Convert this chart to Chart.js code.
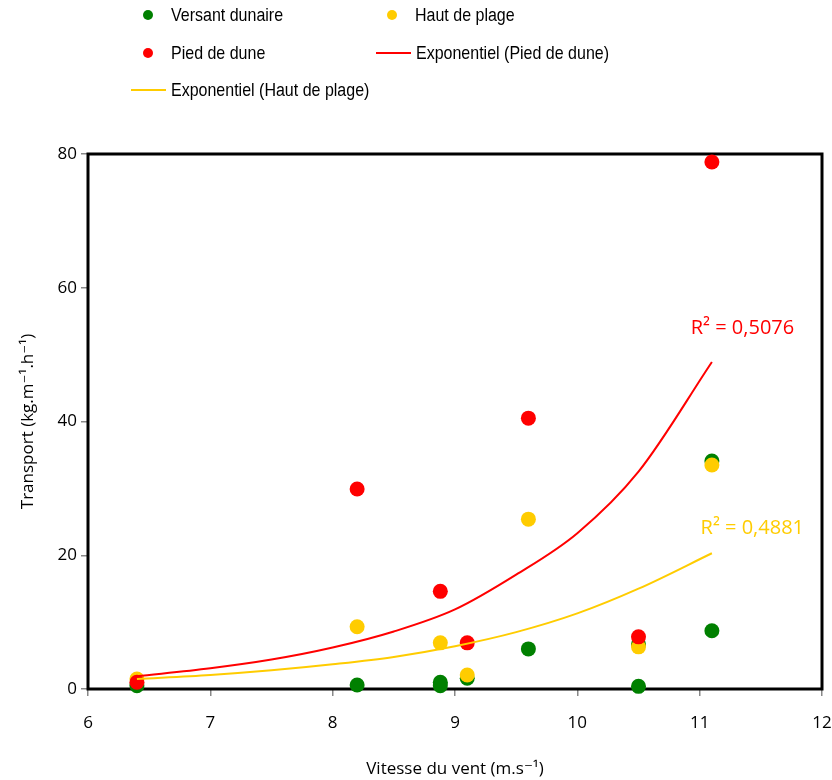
<!DOCTYPE html>
<html>
<head>
<meta charset="utf-8">
<script src="https://cdn.jsdelivr.net/npm/chart.js@4.4.1/dist/chart.umd.min.js"></script>
<style>
  body { margin: 0; background: #fff; }
  .wrap { position: relative; width: 832px; height: 780px; }
  .legend-item {
    position: absolute;
    font-family: "Liberation Sans", Arial, sans-serif;
    font-size: 16px;
    color: #000;
    line-height: 20px;
    white-space: nowrap;
  }
  .legend-item .txt { display: inline-block; transform: scaleY(1.14); }
  .dot { position: absolute; width: 10px; height: 10px; border-radius: 50%; top: 5px; }
  .bar { position: absolute; width: 35px; height: 2px; top: 9px; }
</style>
</head>
<body>
<div class="wrap">
  <canvas id="chart" width="832" height="780"></canvas>
  <div id="legend"></div>
</div>
<script>
  // values
  const windX = [6.4, 8.2, 8.88, 9.1, 9.6, 10.5, 11.1];
  const versantX = [6.4, 8.2, 8.88, 8.88, 9.1, 9.6, 10.5, 10.5, 11.1, 11.1];
  const versantY = [0.5, 0.6, 0.5, 1.0, 1.6, 6.0, 0.4, 6.7, 34.1, 8.7];
  const hautY = [1.5, 9.3, 6.9, 2.1, 25.4, 6.3, 33.5];
  const piedY = [1.0, 29.9, 14.6, 6.9, 40.5, 7.8, 78.8];

  // trend curves as traced on the picture
  const trendX = [6.4, 7, 7.5, 8, 8.5, 9, 9.5, 10, 10.5, 11.1];
  const piedTrend = [1.9, 3.1, 4.4, 6.2, 8.6, 11.9, 17.1, 23.3, 32.5, 48.9];
  const hautTrend = [1.5, 2.1, 2.8, 3.7, 4.8, 6.4, 8.5, 11.3, 15.0, 20.3];

  const xTicks = [6, 7, 8, 9, 10, 11, 12];
  const yTicks = [0, 20, 40, 60, 80];

  const GREEN = '#008000', YELLOW = '#FFCC00', RED = '#FF0000';
  const FONT = "'Open Sans', 'DejaVu Sans', sans-serif";

  const pts = (xs, ys) => xs.map((x, i) => ({ x: x, y: ys[i] }));

  // R² labels, anchored in data units
  const r2Labels = [
    { text: 'R² = 0,5076', x: 11.35, y: 54, color: RED },
    { text: 'R² = 0,4881', x: 11.43, y: 24, color: YELLOW }
  ];

  const boxPlugin = {
    id: 'box',
    beforeDatasetsDraw(chart) {
      const a = chart.chartArea, c = chart.ctx;
      c.save();
      c.strokeStyle = '#000';
      c.lineWidth = 3;
      c.strokeRect(a.left, a.top, a.right - a.left, a.bottom - a.top);
      c.restore();
    }
  };

  const r2Plugin = {
    id: 'r2',
    afterDatasetsDraw(chart) {
      const c = chart.ctx, sx = chart.scales.x, sy = chart.scales.y;
      c.save();
      c.font = '20px ' + FONT;
      c.textAlign = 'center';
      c.textBaseline = 'middle';
      r2Labels.forEach(l => {
        c.fillStyle = l.color;
        c.fillText(l.text, sx.getPixelForValue(l.x), sy.getPixelForValue(l.y));
      });
      c.restore();
    }
  };

  const datasets = [
    { label: 'Exponentiel (Pied de dune)', data: pts(trendX, piedTrend), showLine: true, borderColor: RED, borderWidth: 2, pointRadius: 0, cubicInterpolationMode: 'monotone', legend: 'line' },
    { label: 'Exponentiel (Haut de plage)', data: pts(trendX, hautTrend), showLine: true, borderColor: YELLOW, borderWidth: 2, pointRadius: 0, cubicInterpolationMode: 'monotone', legend: 'line' },
    { label: 'Pied de dune', data: pts(windX, piedY), backgroundColor: RED, borderColor: RED, pointRadius: 7.5, legend: 'dot' },
    { label: 'Haut de plage', data: pts(windX, hautY), backgroundColor: YELLOW, borderColor: YELLOW, pointRadius: 7.5, legend: 'dot' },
    { label: 'Versant dunaire', data: pts(versantX, versantY), backgroundColor: GREEN, borderColor: GREEN, pointRadius: 7.5, legend: 'dot' }
  ];
  datasets.forEach(d => { d.clip = false; d.pointBorderWidth = 0; });

  const tickFont = { family: FONT, size: 17 };

  new Chart(document.getElementById('chart'), {
    type: 'scatter',
    data: { datasets: datasets },
    options: {
      responsive: false,
      animation: false,
      events: [],
      layout: { padding: { top: 154, right: 10, left: 0, bottom: 0 } },
      plugins: { legend: { display: false }, tooltip: { enabled: false } },
      scales: {
        x: {
          type: 'linear', min: 6, max: 12,
          afterBuildTicks: s => { s.ticks = xTicks.map(v => ({ value: v })); },
          ticks: { color: '#000', font: tickFont, padding: 17, maxRotation: 0 },
          grid: { drawOnChartArea: false, tickLength: 7, color: '#888', lineWidth: 1.5 },
          border: { display: false },
          title: { display: true, text: 'Vitesse du vent (m.s⁻¹)', color: '#000', font: tickFont, padding: { top: 4, bottom: 1 } },
          afterFit: s => { s.height = 91; s.paddingLeft = 0; s.paddingRight = 0; }
        },
        y: {
          min: 0, max: 80,
          afterBuildTicks: s => { s.ticks = yTicks.map(v => ({ value: v })); },
          ticks: { color: '#000', font: tickFont, padding: 4 },
          grid: { drawOnChartArea: false, tickLength: 7, color: '#888', lineWidth: 1.5 },
          border: { display: false },
          title: { display: true, text: 'Transport (kg.m⁻¹.h⁻¹)', color: '#000', font: tickFont, padding: { top: 18, bottom: 0 } },
          afterFit: s => { s.width = 88; s.paddingTop = 0; s.paddingBottom = 0; }
        }
      }
    },
    plugins: [boxPlugin, r2Plugin]
  });

  // legend laid out like the original, two columns
  const legendSpots = [
    { label: 'Versant dunaire', left: 143, top: 5 },
    { label: 'Haut de plage', left: 387, top: 5 },
    { label: 'Pied de dune', left: 143, top: 43 },
    { label: 'Exponentiel (Pied de dune)', left: 376, top: 43 },
    { label: 'Exponentiel (Haut de plage)', left: 131, top: 80 }
  ];
  const legend = document.getElementById('legend');
  legendSpots.forEach(spot => {
    const ds = datasets.find(d => d.label === spot.label);
    const item = document.createElement('div');
    item.className = 'legend-item';
    item.style.left = spot.left + 'px';
    item.style.top = spot.top + 'px';
    const mark = document.createElement('span');
    let textLeft;
    if (ds.legend === 'dot') {
      mark.className = 'dot';
      mark.style.left = '0px';
      mark.style.background = ds.backgroundColor;
      textLeft = 28;
    } else {
      mark.className = 'bar';
      mark.style.left = '0px';
      mark.style.background = ds.borderColor;
      textLeft = 40;
    }
    const txt = document.createElement('span');
    txt.className = 'txt';
    txt.textContent = ds.label;
    txt.style.marginLeft = textLeft + 'px';
    item.appendChild(mark);
    item.appendChild(txt);
    legend.appendChild(item);
  });
</script>
</body>
</html>
